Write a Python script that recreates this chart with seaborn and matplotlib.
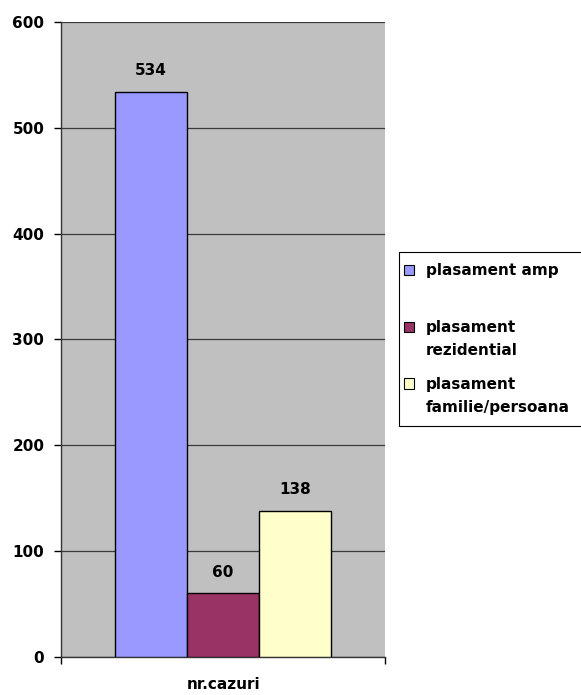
import pandas as pd
import matplotlib
matplotlib.use("Agg")
import matplotlib.pyplot as plt
from matplotlib.legend_handler import HandlerPatch
import seaborn as sns

# Data
categorie = ["nr.cazuri"]
serii = ["plasament amp", "plasament rezidential", "plasament familie/persoana"]
valori = [534, 60, 138]
culori = ["#9999FF", "#993366", "#FFFFCC"]
# legend labels wrapped like the original (each entry gets two text lines)
etichete_legenda = ["plasament amp\n", "plasament\nrezidential", "plasament\nfamilie/persoana"]
y_ticks = [0, 100, 200, 300, 400, 500, 600]

df = pd.DataFrame({"categorie": categorie * len(serii), "serie": serii, "valoare": valori})

sns.set_style("white")
plt.rcParams["font.family"] = ["DejaVu Sans"]
plt.rcParams["font.weight"] = "bold"
plt.rcParams["text.color"] = "black"
plt.rcParams["xtick.color"] = "black"
plt.rcParams["ytick.color"] = "black"
plt.rcParams["axes.labelcolor"] = "black"

fig = plt.figure(figsize=(5.81, 6.95), dpi=100)
ax = fig.add_axes([0.105, 0.0547, 0.558, 0.9137])
ax.set_facecolor("#C0C0C0")

sns.barplot(data=df, x="categorie", y="valoare", hue="serie", hue_order=serii,
            palette=culori, width=0.667, gap=0, edgecolor="black", linewidth=1,
            saturation=1, ax=ax, legend=False, zorder=3)

# Value labels above bars
for cont in ax.containers:
    ax.bar_label(cont, fmt="%d", padding=10, fontsize=11, fontweight="bold", color="black")

ax.set_xlim(-0.5, 0.5)
ax.set_ylim(0, 600)
ax.set_yticks(y_ticks)
ax.set_yticklabels([str(t) for t in y_ticks], fontsize=11, fontweight="bold")
ax.yaxis.grid(True, color="#3a3a3a", linewidth=0.9, zorder=0)
ax.set_axisbelow(True)
ax.tick_params(axis="y", length=5, width=1, color="black", left=True, pad=7)
ax.set_xticks([-0.5, 0.5])
ax.set_xticklabels(["", ""])
ax.tick_params(axis="x", length=5, width=1, color="black", bottom=True)
ax.set_xlabel("nr.cazuri", fontsize=11, fontweight="bold", labelpad=6)
ax.set_ylabel("")

for side in ["top", "right"]:
    ax.spines[side].set_visible(False)
for side in ["left", "bottom"]:
    ax.spines[side].set_color("#333333")
    ax.spines[side].set_linewidth(1)


# handle sits next to the first text line, not the last
def handle_sus(legend, orig_handle, xdescent, ydescent, width, height, fontsize):
    return plt.Rectangle((-xdescent - 4, -ydescent + 9.3), width, height)


handles = [plt.Rectangle((0, 0), 1, 1, facecolor=c, edgecolor="black", linewidth=0.8) for c in culori]
leg = fig.legend(handles, etichete_legenda, loc="upper left", bbox_to_anchor=(0.686, 0.638),
                 frameon=True, fancybox=False, framealpha=1, edgecolor="black",
                 handlelength=0.65, handleheight=0.65, handletextpad=0.4,
                 labelspacing=1.2, borderpad=0.75, borderaxespad=0,
                 handler_map={plt.Rectangle: HandlerPatch(patch_func=handle_sus)},
                 prop={"size": 11, "weight": "bold"})
leg.get_frame().set_linewidth(0.8)
for t in leg.get_texts():
    t.set_linespacing(1.7)

fig.savefig("out.png", dpi=100)
